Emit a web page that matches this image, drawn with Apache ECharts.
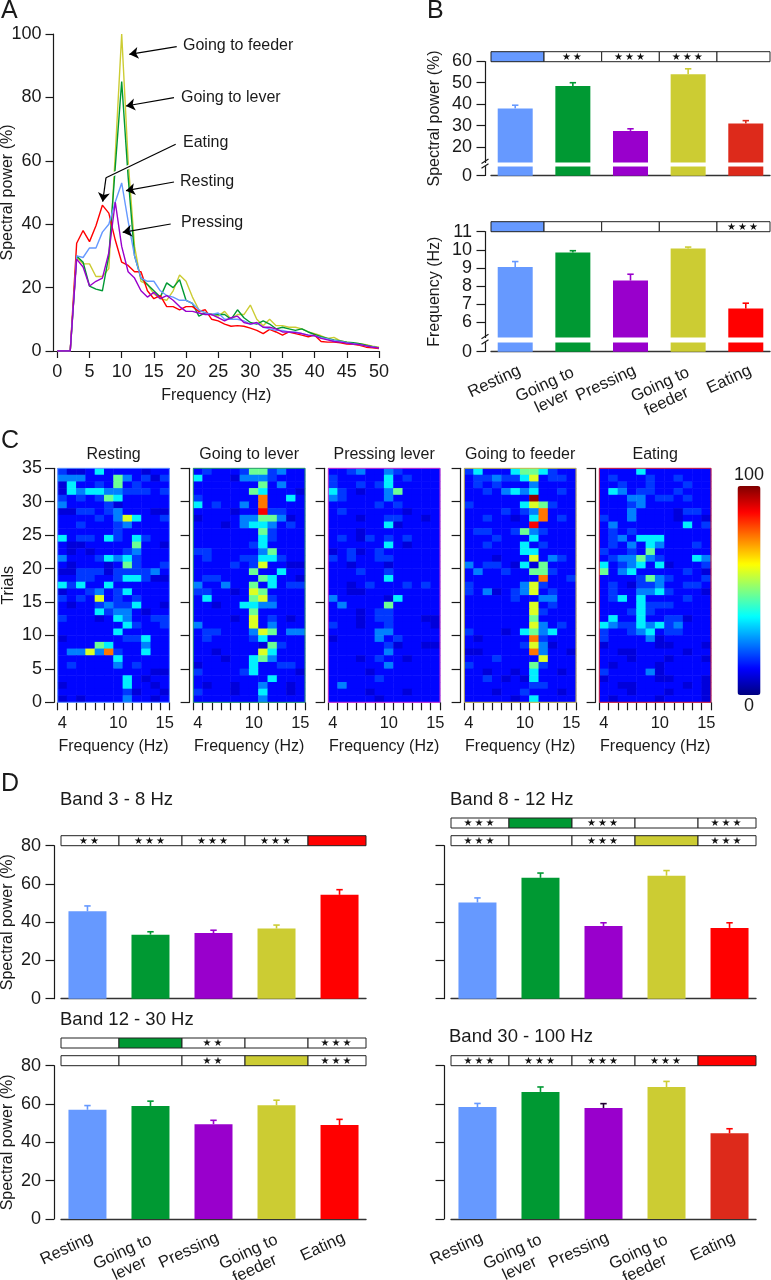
<!DOCTYPE html>
<html>
<head>
<meta charset="utf-8">
<title>Spectral power</title>
<script src="https://cdn.jsdelivr.net/npm/echarts@6/dist/echarts.min.js"></script>
<style>
html, body { margin: 0; padding: 0; background: #fff; }
#chart { width: 771px; height: 1280px; }
</style>
</head>
<body>
<div id="chart"></div>
<script>
// panel A: spectra, one value per Hz from 0 to 50
var freqHz = [];
for (var f = 0; f <= 50; f++) freqHz.push(f);
var specResting = [0,0,0,30,29.5,32.5,32.5,37.5,40,47,53,41,30,23,22,22,19,17.5,17,16,16,15,13,12,11.5,12,10,10,10,9.5,8.5,8.8,7.5,7,6.5,6.5,6,6,5.5,5,4.8,4.2,3.8,3.3,3,2.6,2.3,2,1.6,1.3,1];
var specLever = [0,0,0,30,28,20.5,19.5,19,30,58,85,55,30,23,21,19,17,21.5,20,22.5,16,15,11,12,11.5,11.5,11.5,10,13,10.5,9,8.5,9.5,8.5,7,7.5,7,6.5,7,6,5.2,4.5,4,3.5,3.2,2.8,2.6,2.3,1.8,1.4,1];
var specFeeder = [0,0,0,29.5,27.5,27.5,23.5,23.5,26,62,100,60,33,22,21,18,16.5,16,19,24,22,17,13,12,11.5,11,12.5,10,11.5,11.5,14.5,10,8,10,8,8,7.5,7.5,7,6,5.5,4.8,4,4.3,3.2,2.8,2.5,2.3,2,1.5,1.2];
var specPressing = [0,0,0,29,26.5,20.5,22,23,31,47,33,25,23,19,17,18.5,16.5,17.5,16,14,12.5,12.5,12,11.5,11.5,10.5,9.5,10.5,11,9,8.5,9,7.5,7.5,7,6,6,5.8,5.5,5,4.8,4,3.5,3,2.8,2.5,2.2,2,1.6,1.2,1];
var specEating = [0,0,0,34,38,34.5,39.5,46,43.5,35,28,27,25,25,19,16.5,17.5,14,14,13,14,14,12.5,13,10,9.5,8.5,7.8,8,7.8,7.2,6.5,5.5,6.8,6,5,6,5.5,5,4.5,5,3,2.8,2.8,2.6,2.2,2.1,1.8,1.2,1,0.8];

// bars (leading blank line and the no-break spaces only line the rotated names up)
var behaviours = ['Resting',
    '\u00a0\nGoing to\u00a0\n\u00a0\u00a0lever\u00a0\u00a0\u00a0\u00a0',
    'Pressing',
    '\u00a0\nGoing to\u00a0\nfeeder\u00a0\u00a0\u00a0',
    'Eating'];
var powerVals = [38, 48.5, 27.5, 54, 31];
var powerErrs = [39.5, 50, 28.5, 56.5, 32.3];
var peakVals = [9.05, 9.85, 8.3, 10.07, 6.75];
var peakErrs = [9.35, 9.95, 8.65, 10.15, 7.05];
var band3Vals = [45.7, 33.5, 34.3, 36.7, 54.3];
var band3Errs = [48.5, 35, 35.8, 38.5, 57];
var band8Vals = [50.3, 63.2, 38, 64.3, 37];
var band8Errs = [52.7, 65.7, 39.7, 67, 39.7];
var band12Vals = [57, 59, 49.5, 59.3, 49];
var band12Errs = [59.2, 61.5, 51.5, 62, 52];
var band30Vals = [58.4, 66.3, 57.9, 68.9, 44.7];
var band30Errs = [60.3, 68.9, 60.2, 71.8, 47.1];

// y ticks of the two cut axes in panel B
var powerTicks = [0, 20, 30, 40, 50, 60];
var peakTicks = [0, 6, 7, 8, 9, 10, 11];

// number of stars per behaviour in the significance strips
var starsPower = [0, 2, 3, 3, 0];
var starsPeak = [0, 0, 0, 0, 3];
var starsBand3 = [2, 3, 3, 3, 0];
var starsBand8 = [3, 0, 3, 0, 3];
var starsBand12 = [0, 0, 2, 0, 3];
var starsBand30 = [3, 3, 3, 3, 0];

// panel C: one string per trial row, top row first, one digit per Hz bin (4..15 Hz)
// digit is an index in heatLevels (a = top level)
var heatLevels = [6, 9, 13, 18, 25, 36, 48, 59, 76, 88, 98];
var heatFreqs = ['4','5','6','7','8','9','10','11','12','13','14','15'];
var heatResting = ['311252222122','444222642313','152232623222','154554433323','323236522222','422223122222','113323422211','222232475223','223222342222','222222322222','523325325322','211222226221','212122234222','422235453222','212221263223','113331333342','223322355311','535225222222','122342352222','323272323222','212234335221','222253442122','322212542233','222222253223','222222522222','122222233522','222265222422','244748322522','222222522222','232222423222','222222222211','222222252122','122222252212','222222231221','121222242212'];
var heatLever = ['232223663422','522214443222','222222262422','222222652221','322222282252','523224282222','222212293322','122224466412','222124554232','222222263222','222222253222','222222352222','332222246222','232223355322','222232372211','222222622522','233222265221','422422625233','332212762222','252222673222','221225544222','222222622222','222212723212','422222724222','233222476244','232222352222','222222216322','221222275222','222122564222','122222522332','322223522221','222222225222','212212242212','322212252212','222222242222'];
var heatPressing = ['223422432222','322222523222','322323522222','532122462222','432222422222','222223232222','232222221222','222122332212','222222512222','222122222222','232132323222','222222521222','123123222222','323223322222','221222122222','222322322222','222222522222','221232223232','221122222222','422222152222','242222622222','222123322222','222123322211','322122322221','222224422222','122224232222','222222312211','222222422222','222123221222','222222422222','222212222222','222223222222','242222222222','222212221222','222221222222'];
var heatFeeder = ['352225665322','233433572332','232322242222','223245452232','2222222a2222','322222576322','222232348222','223221258232','222222292222','233223643222','222322252222','223222523222','222222552222','222122272432','423321516222','242232266322','222222228223','322222473222','324123472322','222223224422','222222272322','222222273222','222222262222','222222274232','322212564522','212222283222','222222374122','112222284221','222322227222','322222263222','221221252212','223212152222','222222233222','222122322212','222221252222'];
var heatEating = ['222252222222','232223223222','223223222322','254233223222','222442332322','222342222222','222422221332','322422221221','242222222523','232322222222','234255522222','232425422232','322326222222','234464322254','523452512223','624522222321','222236432223','232133422332','232244532221','235252222322','222253332222','222353222222','252252233122','543354534222','322345233222','322224122222','122222112221','221122222122','222122212221','212222122222','322224122222','122222112221','221122222121','222122212221','212222122221'];

var cBlue = '#6699ff', cGreen = '#009933', cPurple = '#9900cc', cOlive = '#cccc33', cRed = '#ff0000', cDarkRed = '#dd2a1b';
var ink = '#1a1a1a';
var font = '"Liberation Sans", Arial, sans-serif';

var grids = [], xAxes = [], yAxes = [], series = [], texts = [];

function addGrid(x, y, w, h) {
    // outerBoundsMode none: keep the grid where it is put even if a label runs near the page edge
    grids.push({ left: x, top: y, width: w, height: h, outerBoundsMode: 'none' });
    return grids.length - 1;
}

function addText(str, x, y, size, align) {
    texts.push({
        type: 'text', x: x, y: y, silent: true,
        style: { text: str, fontFamily: font, fontSize: size, fill: ink, textAlign: align || 'left', textVerticalAlign: 'middle' }
    });
}

// ---- panel A
var gA = addGrid(53.5, 34, 325.5, 317);
xAxes.push({
    gridIndex: gA, type: 'value', min: -0.6, max: 50,
    name: 'Frequency (Hz)', nameLocation: 'middle', nameGap: 37,
    nameTextStyle: { color: ink, fontSize: 16, fontFamily: font },
    splitLine: { show: false },
    axisLine: { lineStyle: { color: ink, width: 1.2 } },
    axisTick: { length: 7, lineStyle: { color: ink, width: 1.2 }, customValues: [0,5,10,15,20,25,30,35,40,45,50] },
    axisLabel: { color: ink, fontSize: 18, fontFamily: font, margin: 12, customValues: [0,5,10,15,20,25,30,35,40,45,50], showMinLabel: true, showMaxLabel: true }
});
yAxes.push({
    gridIndex: gA, type: 'value', min: 0, max: 100, interval: 20, position: 'left',
    name: 'Spectral power (%)', nameLocation: 'middle', nameGap: 38, nameMoveOverlap: false,
    nameTextStyle: { color: ink, fontSize: 16, fontFamily: font },
    splitLine: { show: false },
    axisLine: { show: true, onZero: false, lineStyle: { color: ink, width: 1.2 } },
    axisTick: { show: true, length: 8, lineStyle: { color: ink, width: 1.2 } },
    axisLabel: { color: ink, fontSize: 18, fontFamily: font, margin: 12, showMinLabel: true, showMaxLabel: true }
});
function addSpectrum(name, vals, color) {
    series.push({
        type: 'line', name: name, xAxisIndex: xAxes.length - 1, yAxisIndex: yAxes.length - 1,
        data: freqHz.map(function (h, i) { return [h, vals[i]]; }),
        showSymbol: false, silent: true, lineStyle: { color: color, width: 1.4 }
    });
}
addSpectrum('Going to feeder', specFeeder, cOlive);
addSpectrum('Going to lever', specLever, cGreen);
addSpectrum('Eating', specEating, cRed);
addSpectrum('Resting', specResting, cBlue);
addSpectrum('Pressing', specPressing, cPurple);

// callout arrows, in screen pixels
function pt(x, y, sym) { return { x: x, y: y, symbol: sym }; }
series.push({
    type: 'line', xAxisIndex: 0, yAxisIndex: 0, data: [], z: 6, silent: true,
    markLine: {
        silent: true, animation: false, symbol: 'none', label: { show: false },
        lineStyle: { color: '#fff', width: 4, type: 'solid' },
        data: [[pt(175.7, 144.3, 'none'), pt(106, 177.7, 'none')]]
    }
});
series.push({
    type: 'line', xAxisIndex: 0, yAxisIndex: 0, data: [], z: 7, silent: true,
    markLine: {
        silent: true, animation: false, symbolSize: 9, label: { show: false },
        lineStyle: { color: '#000', width: 1.2, type: 'solid' },
        data: [
            [pt(176.7, 46.7, 'none'), pt(129.3, 54.3, 'arrow')],
            [pt(174, 97.7, 'none'), pt(126, 106, 'arrow')],
            [pt(175.7, 144.3, 'none'), pt(106, 177.7, 'none')],
            [pt(106, 177.7, 'none'), pt(102.7, 201.7, 'arrow')],
            [pt(174, 182, 'none'), pt(126, 190.7, 'arrow')],
            [pt(170.7, 224, 'none'), pt(122.7, 232.3, 'arrow')]
        ]
    }
});
addText('Going to feeder', 183, 46, 16);
addText('Going to lever', 181, 98, 16);
addText('Eating', 183, 143, 16);
addText('Resting', 180, 182, 16);
addText('Pressing', 181, 223, 16);

// ---- bar panels
var xMin = -0.42, xMax = 4.42;

function barPanel(o) {
    var g = addGrid(o.x0, o.top, o.x1 - o.x0, o.bottom - o.top);
    xAxes.push({
        gridIndex: g, type: 'value', min: xMin, max: xMax,
        splitLine: { show: false }, axisTick: { show: false },
        axisLine: { lineStyle: { color: '#333', width: 1.4 } },
        axisLabel: { show: false }
    });
    var yAxis = {
        gridIndex: g, type: 'value', min: 0, max: o.yMax, interval: o.yStep, offset: o.yOffset, position: 'left',
        splitLine: { show: false },
        axisLine: { show: true, onZero: false, lineStyle: { color: ink, width: 1.2 } },
        axisTick: { show: true, length: 8.5, lineStyle: { color: ink, width: 1.2 } },
        axisLabel: o.yLabels ? { color: ink, fontSize: 18, fontFamily: font, margin: 13, showMinLabel: true, showMaxLabel: true } : { show: false }
    };
    if (o.yName) {
        yAxis.name = o.yName;
        yAxis.nameLocation = 'middle';
        yAxis.nameGap = o.nameGap;
        yAxis.nameMoveOverlap = false;
        yAxis.nameTextStyle = { color: ink, fontSize: 16, fontFamily: font };
    }
    if (o.cut) {
        yAxis.breaks = [o.cut];
        yAxis.breakArea = {
            show: true, expandOnClick: false, zigzagAmplitude: 0, zigzagZ: 100,
            itemStyle: { color: '#fff', borderColor: '#fff', borderWidth: 0, opacity: 1 }
        };
        yAxis.axisTick.customValues = o.ticks;
        if (o.yLabels) yAxis.axisLabel.customValues = o.ticks;
    }
    yAxes.push(yAxis);
    var xi = xAxes.length - 1, yi = yAxes.length - 1;
    var colors = o.colors;
    series.push({
        type: 'bar', xAxisIndex: xi, yAxisIndex: yi,
        barWidth: o.barW, silent: true,
        data: o.vals.map(function (v, i) {
            return { value: [i, v], itemStyle: { color: colors[i] } };
        })
    });
    var errColors = o.errColors || colors;
    series.push({
        type: 'custom', xAxisIndex: xi, yAxisIndex: yi,
        silent: true, clip: false, z: 3,
        data: o.vals.map(function (v, i) { return [i, v, o.errs[i]]; }),
        renderItem: function (params, api) {
            var a = api.coord([api.value(0), api.value(1)]);
            var b = api.coord([api.value(0), api.value(2)]);
            var st = { stroke: errColors[params.dataIndex], lineWidth: 1.6, fill: null };
            return {
                type: 'group', children: [
                    { type: 'line', shape: { x1: a[0], y1: a[1], x2: b[0], y2: b[1] }, style: st },
                    { type: 'line', shape: { x1: b[0] - 3.2, y1: b[1], x2: b[0] + 3.2, y2: b[1] }, style: st }
                ]
            };
        }
    });
    if (o.cut) {
        // the two slashes on the y axis at the cut
        series.push({
            type: 'custom', xAxisIndex: xi, yAxisIndex: yi, silent: true, clip: false, z: 101,
            data: [[o.cut.start], [o.cut.end]],
            renderItem: function (params, api) {
                var p = api.coord([xMin, api.value(0)]);
                var ax = p[0] - o.yOffset;
                return {
                    type: 'line',
                    shape: { x1: ax - 3.5, y1: p[1] + 1.5, x2: ax + 3.5, y2: p[1] - 3 },
                    style: { stroke: ink, lineWidth: 1.2, fill: null }
                };
            }
        });
    }
    if (o.labels) {
        // behaviour names sit on a plain category axis, one band per bar
        var step = (o.x1 - o.x0) / (xMax - xMin);
        var gl = addGrid(o.x0 + (-xMin - 0.5) * step + 4.5, o.top, 5 * step, o.bottom - o.top);
        xAxes.push({
            gridIndex: gl, type: 'category', data: behaviours,
            axisLine: { show: false }, axisTick: { show: false }, splitLine: { show: false },
            axisLabel: { color: ink, fontSize: 16.5, fontFamily: font, rotate: 25, margin: 18, lineHeight: 18, interval: 0 }
        });
        yAxes.push({ gridIndex: gl, type: 'value', show: false });
    }
}

function addStrip(x0, x1, top, stars, filled, fillColor) {
    var g = addGrid(x0, top, x1 - x0, 10);
    xAxes.push({ gridIndex: g, type: 'value', min: xMin, max: xMax, show: false });
    yAxes.push({ gridIndex: g, type: 'value', min: 0, max: 1, show: false });
    series.push({
        type: 'custom', xAxisIndex: xAxes.length - 1, yAxisIndex: yAxes.length - 1,
        silent: true, clip: false, z: 4,
        data: stars.map(function (n, i) { return [i, n]; }),
        renderItem: function (params, api) {
            var i = api.value(0), n = api.value(1);
            var a = api.coord([Math.max(i - 0.5, xMin), 0]);
            var b = api.coord([Math.min(i + 0.5, xMax), 1]);
            var kids = [{
                type: 'rect',
                shape: { x: a[0], y: b[1], width: b[0] - a[0], height: a[1] - b[1] },
                style: { fill: i === filled ? fillColor : '#fff', stroke: '#222', lineWidth: 1 }
            }];
            if (n > 0) {
                kids.push({
                    type: 'text',
                    style: {
                        x: (a[0] + b[0]) / 2, y: (a[1] + b[1]) / 2 + 0.5,
                        text: new Array(n + 1).join('\u2605\u2009'),
                        fontFamily: '"DejaVu Sans"', fontSize: 10, fill: '#111',
                        textAlign: 'center', textVerticalAlign: 'middle'
                    }
                });
            }
            return { type: 'group', children: kids };
        }
    });
}

var palette = [cBlue, cGreen, cPurple, cOlive, cRed];
var paletteDark = [cBlue, cGreen, cPurple, cOlive, cDarkRed];

// panel B
barPanel({
    x0: 491, x1: 770, top: 61.3, bottom: 175.7, yOffset: 6, vals: powerVals, errs: powerErrs,
    colors: paletteDark, barW: 35, yMax: 60, yStep: 10, yLabels: true, ticks: powerTicks,
    yName: 'Spectral power (%)', nameGap: 42, cut: { start: 4.2, end: 13, gap: 2.2 }
});
addStrip(491, 770, 51.7, starsPower, 0, cBlue);
barPanel({
    x0: 491, x1: 770, top: 231.7, bottom: 351.7, yOffset: 6, vals: peakVals, errs: peakErrs,
    colors: palette, barW: 35, yMax: 11, yStep: 1, yLabels: true, labels: true, ticks: peakTicks,
    yName: 'Frequency (Hz)', nameGap: 42, cut: { start: 0.5, end: 5.17, gap: 0.3 }
});
addStrip(491, 770, 221.7, starsPeak, 0, cBlue);

// panel D
barPanel({
    x0: 61, x1: 366, top: 845.7, bottom: 998.7, yOffset: 7, vals: band3Vals, errs: band3Errs,
    colors: palette, barW: 38, yMax: 80, yStep: 20, yLabels: true,
    yName: 'Spectral power (%)', nameGap: 38.5
});
addStrip(61, 366, 835.7, starsBand3, 4, cRed);
barPanel({
    x0: 451, x1: 756, top: 845.7, bottom: 998.7, yOffset: 7, vals: band8Vals, errs: band8Errs,
    colors: palette, barW: 38, yMax: 80, yStep: 20
});
addStrip(451, 756, 835.7, starsBand8, 3, cOlive);
addStrip(451, 756, 818, starsBand8, 1, cGreen);
barPanel({
    x0: 61, x1: 366, top: 1065.7, bottom: 1219, yOffset: 7, vals: band12Vals, errs: band12Errs,
    colors: palette, barW: 38, yMax: 80, yStep: 20, yLabels: true, labels: true,
    yName: 'Spectral power (%)', nameGap: 38.5
});
addStrip(61, 366, 1055.7, starsBand12, 3, cOlive);
addStrip(61, 366, 1038, starsBand12, 1, cGreen);
barPanel({
    x0: 451, x1: 756, top: 1065.7, bottom: 1219, yOffset: 7, vals: band30Vals, errs: band30Errs,
    colors: paletteDark, errColors: [cBlue, cGreen, '#220033', cOlive, cRed], barW: 38, yMax: 80, yStep: 20, labels: true
});
addStrip(451, 756, 1055.7, starsBand30, 4, cRed);

addText('Band 3 - 8 Hz', 60, 800, 18.5);
addText('Band 8 - 12 Hz', 450, 800, 18.5);
addText('Band 12 - 30 Hz', 60, 1020, 18.5);
addText('Band 30 - 100 Hz', 449, 1037, 18.5);

// ---- panel C heatmaps
var heatIdx = [];
var rowCats = [];
for (var r = 0; r < 35; r++) rowCats.push(String(r));

function heatPanel(x, rows, title, frame, first) {
    var g = addGrid(x, 468.3, 111.7, 234);
    xAxes.push({
        gridIndex: g, type: 'category', data: heatFreqs,
        name: 'Frequency (Hz)', nameLocation: 'middle', nameGap: 36,
        nameTextStyle: { color: ink, fontSize: 16, fontFamily: font },
        axisLine: { show: false },
        axisTick: { show: true, length: 8, interval: 0, lineStyle: { color: ink, width: 1.2 } },
        axisLabel: {
            color: ink, fontSize: 16.5, fontFamily: font, margin: 13, interval: 0,
            formatter: function (v) { return (v === '4' || v === '10' || v === '15') ? v : ''; }
        },
        splitLine: { show: false }
    });
    var xi = xAxes.length - 1;
    yAxes.push({ gridIndex: g, type: 'category', data: rowCats, show: false, position: 'left' });
    var yCat = yAxes.length - 1;
    var yVal = {
        gridIndex: g, type: 'value', min: 0, max: 35, interval: 5, offset: 3.7, position: 'left',
        splitLine: { show: false },
        axisLine: { show: true, onZero: false, lineStyle: { color: ink, width: 1.2 } },
        axisTick: { show: true, length: 9, lineStyle: { color: ink, width: 1.2 } },
        axisLabel: first ? { color: ink, fontSize: 18, fontFamily: font, margin: 12, showMinLabel: true, showMaxLabel: true } : { show: false }
    };
    if (first) {
        yVal.name = 'Trials';
        yVal.nameLocation = 'middle';
        yVal.nameGap = 37.5;
        yVal.nameMoveOverlap = false;
        yVal.nameTextStyle = { color: ink, fontSize: 16, fontFamily: font };
    }
    yAxes.push(yVal);
    var cells = [];
    rows.forEach(function (row, ri) {
        row.split('').forEach(function (ch, ci) {
            cells.push([ci, 34 - ri, heatLevels[parseInt(ch, 16)]]);
        });
    });
    heatIdx.push(series.length);
    series.push({ type: 'heatmap', xAxisIndex: xi, yAxisIndex: yCat, data: cells, silent: true, progressive: 0 });
    series.push({
        type: 'custom', xAxisIndex: xi, yAxisIndex: yCat, silent: true, clip: false, z: 5,
        data: [[0, 0]],
        renderItem: function (params) {
            var c = params.coordSys;
            return {
                type: 'rect', shape: { x: c.x, y: c.y, width: c.width, height: c.height },
                style: { fill: null, stroke: frame, lineWidth: 1 }
            };
        }
    });
    addText(title, x + 55.85, 455, 16, 'center');
}
heatPanel(57.7, heatResting, 'Resting', '#6699ff', true);
heatPanel(193.3, heatLever, 'Going to lever', '#2a9a6a');
heatPanel(328.3, heatPressing, 'Pressing lever', '#cc33cc');
heatPanel(464.3, heatFeeder, 'Going to feeder', '#c8b84a');
heatPanel(599.3, heatEating, 'Eating', '#dd2233');

addText('A', 1, 11, 25);
addText('B', 427, 11, 25);
addText('C', 1, 441, 25);
addText('D', 1, 784, 25);

var chart = echarts.init(document.getElementById('chart'), null, { renderer: 'canvas' });
chart.setOption({
    animation: false,
    backgroundColor: '#fff',
    textStyle: { fontFamily: font },
    grid: grids,
    xAxis: xAxes,
    yAxis: yAxes,
    visualMap: {
        type: 'continuous', min: 0, max: 100, seriesIndex: heatIdx,
        calculable: false, left: 734, top: 466, padding: 0,
        itemWidth: 23, itemHeight: 209, textGap: 2,
        text: ['100', '0'],
        textStyle: { color: ink, fontSize: 18, fontFamily: font },
        inRange: { color: ['#000080', '#0000ff', '#0080ff', '#00ffff', '#80ff80', '#ffff00', '#ff8000', '#ff0000', '#800000'] }
    },
    series: series,
    graphic: { elements: texts }
});
</script>
</body>
</html>
